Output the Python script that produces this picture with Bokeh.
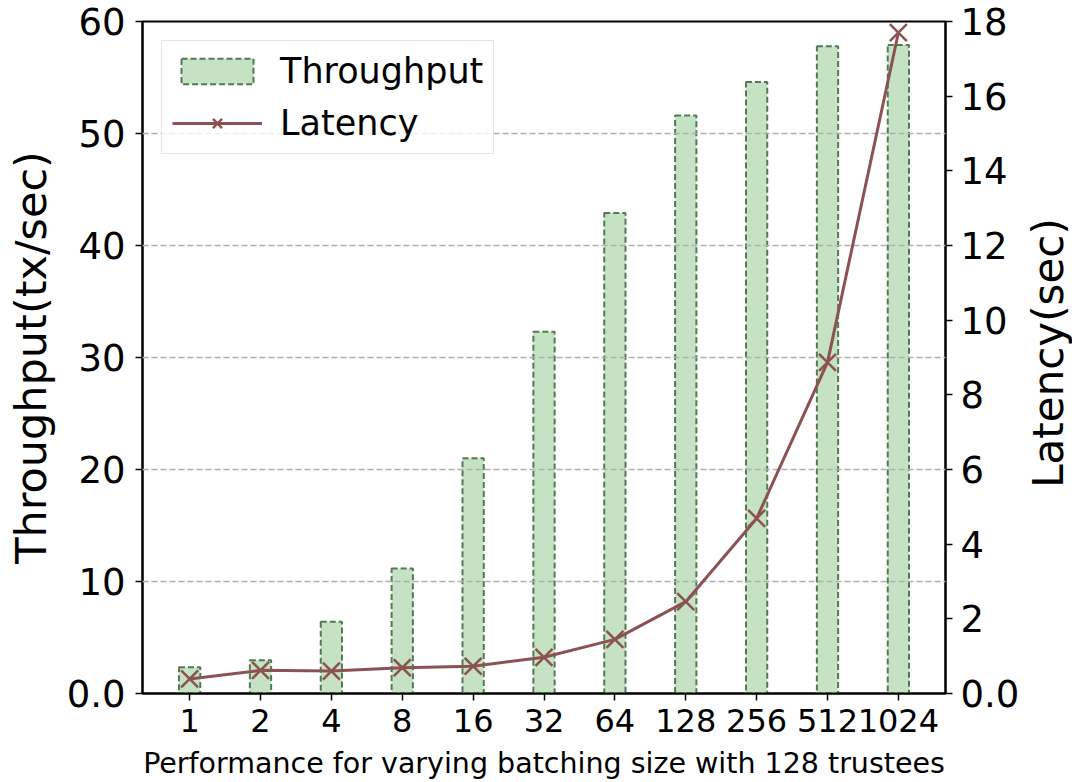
import math
from bokeh.plotting import figure
from bokeh.layouts import row
from bokeh.models import Range1d, LinearAxis, FixedTicker, Legend, LegendItem
from bokeh.core.properties import value
from bokeh.embed import file_html
from bokeh.resources import INLINE

batch_sizes = ["1", "2", "4", "8", "16", "32", "64", "128", "256", "512", "1024"]
throughput = [2.35, 2.97, 6.4, 11.15, 21.0, 32.3, 42.9, 51.6, 54.6, 57.8, 57.9]
latency = [0.39, 0.62, 0.60, 0.69, 0.73, 0.97, 1.45, 2.46, 4.69, 8.87, 17.7]

left_ticks = [0, 10, 20, 30, 40, 50, 60]
right_ticks = [0, 2, 4, 6, 8, 10, 12, 14, 16, 18]

FONT = "DejaVu Sans"
BAR_FILL = "#c5e2c4"
BAR_EDGE = "#527a52"
LINE_COLOR = "#8c5252"

FW, FH = 803, 672
TOP, LEFT, RIGHT = 21, 142, 78
xs = list(range(len(batch_sizes)))

p = figure(
    frame_width=FW, frame_height=FH,
    x_range=Range1d(-0.665, len(batch_sizes) - 1 + 0.665),
    y_range=Range1d(0, 60),
    output_backend="svg", toolbar_location=None,
    min_border_left=LEFT, min_border_right=RIGHT, min_border_top=TOP, min_border_bottom=10,
)
p.extra_y_ranges = {"lat": Range1d(0, 18)}

bars = p.vbar(x=xs, top=throughput, width=0.3, fill_color=BAR_FILL,
              line_color=BAR_EDGE, line_width=2, line_dash="6 3")

line = p.line(x=xs, y=latency, y_range_name="lat", line_color=LINE_COLOR, line_width=3)
pts = p.scatter(x=xs, y=latency, y_range_name="lat", marker="x", size=24,
                line_color=LINE_COLOR, line_width=2.5)
line.level = "annotation"
pts.level = "annotation"

def style_axis(ax, size="37px"):
    ax.major_label_text_font = FONT
    ax.major_label_text_font_size = size
    ax.major_label_text_color = "black"
    ax.axis_line_width = 2
    ax.axis_line_color = "black"
    ax.major_tick_line_width = 1.5
    ax.major_tick_line_color = "black"
    ax.major_tick_out = 7
    ax.major_tick_in = 0
    ax.minor_tick_line_color = None
    ax.axis_label_text_font = FONT
    ax.axis_label_text_font_style = "normal"
    ax.axis_label_text_color = "black"

xa = p.xaxis[0]
style_axis(xa, "32px")
xa.ticker = FixedTicker(ticks=xs)
xa.major_label_overrides = {i: s for i, s in enumerate(batch_sizes)}
xa.axis_label = "Performance for varying batching size with 128 trustees"
xa.axis_label_text_font_size = "28.5px"
xa.axis_label_standoff = 12
xa.major_label_standoff = 8

ya = p.yaxis[0]
style_axis(ya)
ya.ticker = FixedTicker(ticks=left_ticks)
ya.major_label_overrides = {0: "0.0"}
ya.axis_label = "Throughput(tx/sec)"
ya.axis_label_text_font_size = "43px"
ya.axis_label_standoff = 8
ya.major_label_standoff = 10

ra = LinearAxis(y_range_name="lat")
style_axis(ra)
ra.ticker = FixedTicker(ticks=right_ticks)
ra.major_label_overrides = {0: "0.0"}
ra.major_label_standoff = 8
p.add_layout(ra, "right")

p.xgrid.grid_line_color = None
p.ygrid.ticker = FixedTicker(ticks=left_ticks[1:-1])
p.ygrid.grid_line_color = "#b0b0b0"
p.ygrid.grid_line_width = 1.3
p.ygrid.grid_line_dash = "6 3"
p.ygrid.level = "guide"

p.outline_line_color = "black"
p.outline_line_width = 2
p.outline_line_alpha = 1
p.background_fill_color = "white"
p.border_fill_color = "white"

legend = Legend(items=[
    LegendItem(label="Throughput", renderers=[bars]),
    LegendItem(label="Latency", renderers=[line, pts]),
])
legend.location = "top_left"
legend.margin = 19
legend.padding = 10
legend.spacing = 12
legend.glyph_width = 90
legend.glyph_height = 32
legend.label_standoff = 18
legend.label_text_font = FONT
legend.label_text_font_size = "35px"
legend.label_text_color = "black"
legend.border_line_color = "#cccccc"
legend.border_line_width = 1.5
legend.background_fill_alpha = 0.8
p.add_layout(legend, "center")

# narrow strip carrying the right-hand axis title (reads bottom to top)
SW, SH = 49, TOP + FH + 10
strip = figure(width=SW, height=SH, x_range=Range1d(0, SW), y_range=Range1d(0, SH),
               output_backend="svg", toolbar_location=None,
               min_border_left=0, min_border_right=0, min_border_top=0, min_border_bottom=0)
strip.xaxis.visible = False
strip.yaxis.visible = False
strip.xgrid.visible = False
strip.ygrid.visible = False
strip.outline_line_color = None
strip.background_fill_color = "white"
strip.border_fill_color = "white"
strip.text(x=[25], y=[SH - (TOP + FH / 2) - 36], text=["Latency(sec)"], angle=math.pi / 2,
           text_align="center", text_baseline="middle",
           text_font=value(FONT), text_font_size="42px", text_color="black")

layout = row(p, strip)
open("out.html", "w").write(file_html(layout, INLINE))
